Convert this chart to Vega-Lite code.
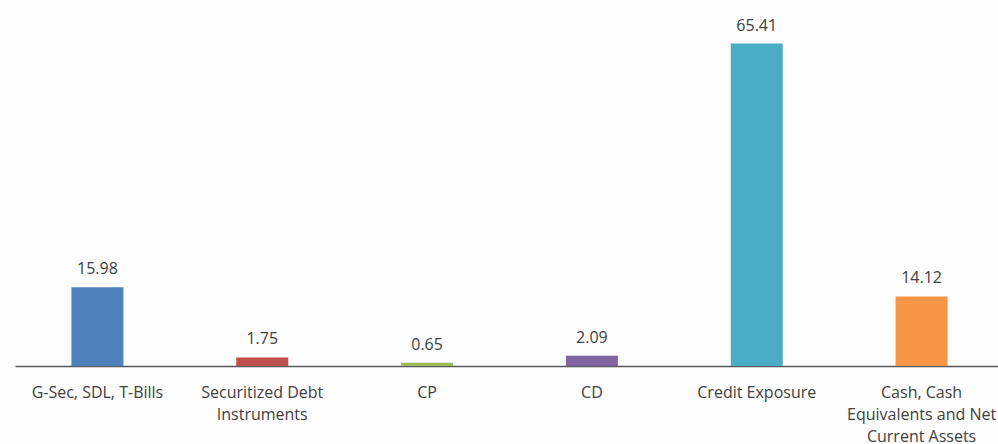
{
  "$schema": "https://vega.github.io/schema/vega-lite/v6.json",
  "width": 989,
  "height": 345,
  "autosize": {"type": "none"},
  "padding": {"left": 15, "top": 21, "right": 0, "bottom": 78},
  "background": "#fdfdfd",
  "config": {"view": {"stroke": null}, "font": "Open Sans"},
  "data": {
    "values": [
      {"category": "G-Sec, SDL, T-Bills", "value": 15.98},
      {"category": "Securitized Debt Instruments", "value": 1.75},
      {"category": "CP", "value": 0.65},
      {"category": "CD", "value": 2.09},
      {"category": "Credit Exposure", "value": 65.41},
      {"category": "Cash, Cash Equivalents and Net Current Assets", "value": 14.12}
    ]
  },
  "encoding": {
    "x": {
      "field": "category",
      "type": "nominal",
      "sort": null,
      "scale": {"paddingInner": 0, "paddingOuter": 0},
      "axis": {
        "title": null,
        "labelAngle": 0,
        "labelFont": "Open Sans",
        "labelFontSize": 16,
        "labelColor": "#404040",
        "labelPadding": 26,
        "labelLineHeight": 22,
        "labelBaseline": "middle",
        "ticks": false,
        "domainColor": "#5a5a5a",
        "domainWidth": 1.5,
        "labelExpr": "datum.value == 'Securitized Debt Instruments' ? ['Securitized Debt', 'Instruments'] : datum.value == 'Cash, Cash Equivalents and Net Current Assets' ? ['Cash, Cash', 'Equivalents and Net', 'Current Assets'] : datum.value"
      }
    },
    "y": {
      "field": "value",
      "type": "quantitative",
      "scale": {"domain": [0, 70], "nice": false},
      "axis": null
    }
  },
  "layer": [
    {
      "mark": {"type": "bar", "size": 52},
      "encoding": {
        "color": {
          "field": "category",
          "type": "nominal",
          "sort": null,
          "legend": null,
          "scale": {
            "domain": ["G-Sec, SDL, T-Bills", "Securitized Debt Instruments", "CP", "CD", "Credit Exposure", "Cash, Cash Equivalents and Net Current Assets"],
            "range": ["#4f81bd", "#c0504d", "#9bbb59", "#8064a2", "#4bacc6", "#f79646"]
          }
        }
      }
    },
    {
      "mark": {"type": "text", "baseline": "bottom", "dy": -10, "fontSize": 16, "font": "Open Sans", "color": "#404040"},
      "encoding": {
        "text": {"field": "value", "type": "quantitative", "format": ".2f"}
      }
    }
  ]
}
